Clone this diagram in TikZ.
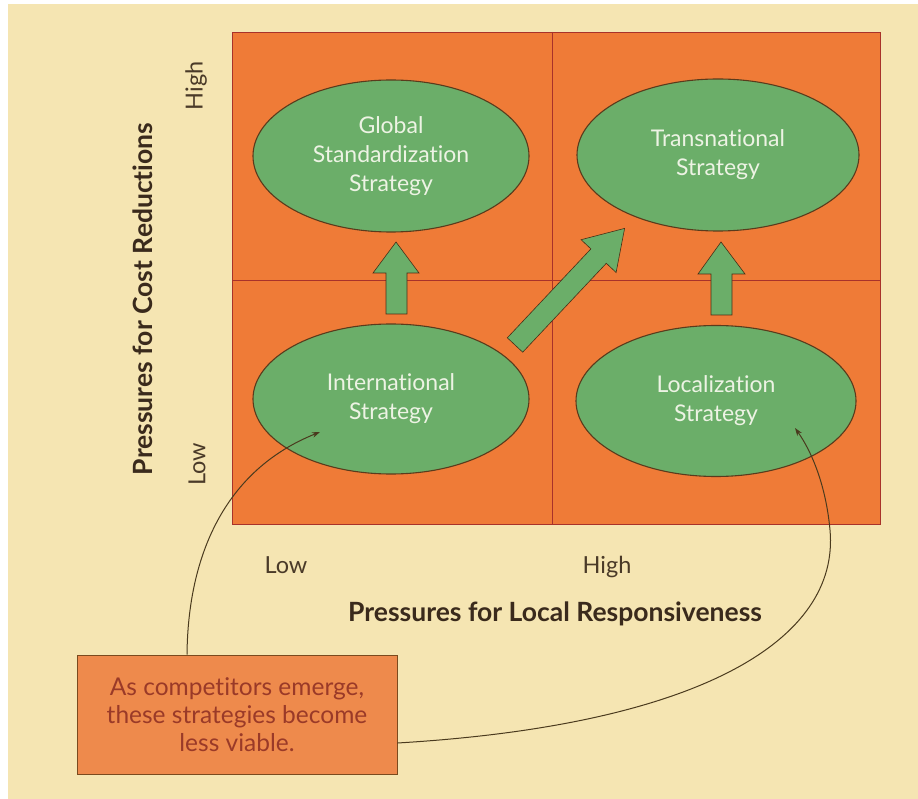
\documentclass[tikz,border=0pt]{standalone}
\usepackage{fontspec}
\setmainfont{Lato}[Ligatures=NoCommon]
\usetikzlibrary{shapes.geometric,arrows.meta}
\definecolor{page}{HTML}{F5E5B2}
\definecolor{gridorange}{HTML}{EF7B37}
\definecolor{gridline}{HTML}{A8322A}
\definecolor{stratgreen}{HTML}{6BAE69}
\definecolor{stratedge}{HTML}{5A3B1C}
\definecolor{strattext}{HTML}{EDF3E4}
\definecolor{boxorange}{HTML}{EE8A4C}
\definecolor{boxedge}{HTML}{7A4A1E}
\definecolor{boxtext}{HTML}{9A3A28}
\definecolor{labtext}{HTML}{4A3A28}
\definecolor{titletext}{HTML}{3A2A1C}
\definecolor{conncol}{HTML}{4A3A1E}
\begin{document}
\begin{tikzpicture}[x=1pt,y=-1pt,
  strat/.style={ellipse, draw=stratedge, line width=1.1pt, fill=stratgreen,
    inner sep=0pt, align=center, text=strattext,
    font=\fontsize{23}{29}\selectfont},
  blockarrow/.style={fill=stratgreen, draw=stratedge!80!black, line width=0.6pt, line join=miter},
  gridrule/.style={draw=gridline, line width=0.8pt},
  axlab/.style={text=labtext, inner sep=0pt, font=\fontsize{23.5}{28}\selectfont},
  boldlab/.style={text=titletext, inner sep=0pt, font=\fontsize{26.5}{30}\selectfont\bfseries},
  callbox/.style={draw=boxedge, line width=0.9pt, fill=boxorange, align=center,
    text=boxtext, inner sep=0pt, minimum width=320pt, minimum height=119pt,
    font=\fontsize{24.5}{28}\selectfont},
  conn/.style={draw=conncol, line width=1pt, -{Stealth[length=8pt,width=5.5pt]}}
]
\useasboundingbox (0,0) rectangle (918,799);
\fill[white] (0,0) rectangle (918,799);
\fill[page] (8,4) rectangle (918,799);

% grid
\fill[gridorange] (232,32) rectangle (880,524);
\draw[gridrule] (232,32) rectangle (880,524);
\draw[gridrule] (552,32) -- (552,524);
\draw[gridrule] (232,280) -- (880,280);

% strategies
\node[strat, minimum width=276pt, minimum height=152pt] (glob) at (391,156) {Global\\Standardization\\Strategy};
\node[strat, minimum width=282pt, minimum height=152pt] (trans) at (718,155) {Transnational\\Strategy};
\node[strat, minimum width=276pt, minimum height=150pt] (intl) at (391,399) {International\\Strategy};
\node[strat, minimum width=280pt, minimum height=151pt] (local) at (716,401) {Localization\\Strategy};

% block arrows
\path[blockarrow] (386,314) -- (386,273) -- (373,273) -- (396,242) -- (419,273) -- (407,273) -- (407,314) -- cycle;
\path[blockarrow] (711,315) -- (711,274) -- (698,274) -- (721,242) -- (745,274) -- (732,274) -- (732,315) -- cycle;
\path[blockarrow] (522.7,352.2) -- (606.3,263.3) -- (616.1,272.5) -- (624.6,228.4) -- (581.1,239.7) -- (590.9,248.9) -- (507.3,337.8) -- cycle;

% axis labels
\node[axlab, rotate=90] (yhigh) at (196,86) {High};
\node[axlab, rotate=90] (ylow) at (197,464) {Low};
\node[axlab] (xlow) at (286,565) {Low};
\node[axlab] (xhigh) at (607,567) {High};
\node[boldlab, rotate=90] (ytitle) at (143,299) {Pressures for Cost Reductions};
\node[boldlab] (xtitle) at (555,614) {Pressures for Local Responsiveness};

% callout
\node[callbox] (callout) at (237,714.5) {As competitors emerge,\\these strategies become\\less viable.};

% connectors
\draw[conn] ([xshift=-50pt]callout.north) .. controls (188,555) and (225,470) .. ([xshift=-71pt,yshift=-33pt]intl.center);
\draw[conn] ([yshift=-28.5pt]callout.east) .. controls (700,725) and (840,640) .. (830,530)
   .. controls (826,486) and (812,452) .. ([xshift=79pt,yshift=-27pt]local.center);
\end{tikzpicture}
\end{document}
